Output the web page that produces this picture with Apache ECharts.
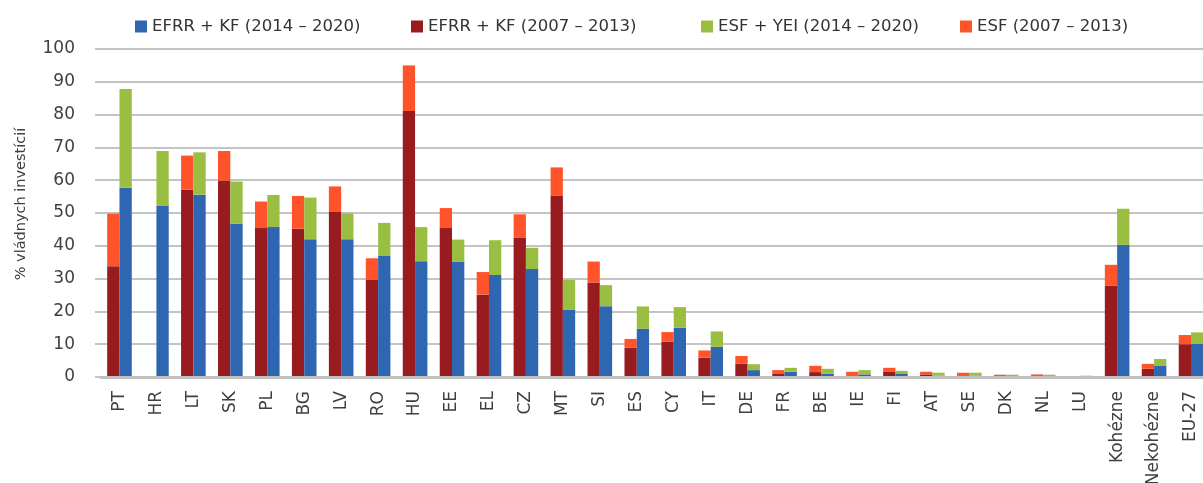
<!DOCTYPE html>
<html>
<head>
<meta charset="utf-8">
<script src="https://cdn.jsdelivr.net/npm/echarts@6/dist/echarts.min.js"></script>
<style>html,body{margin:0;padding:0;background:#fff}#c{width:1203px;height:483px}</style>
</head>
<body>
<div id="c"></div>
<script>
const categories = ['PT','HR','LT','SK','PL','BG','LV','RO','HU','EE','EL','CZ','MT','SI','ES','CY','IT','DE','FR','BE','IE','FI','AT','SE','DK','NL','LU','Kohézne','Nekohézne','EU-27'];
const efrrKf0713 = [33.8,null,57.1,59.9,45.4,45.2,50.3,29.7,81.1,45.4,25.1,42.5,55.3,28.8,8.9,10.8,5.9,4.1,1.1,1.5,0.5,1.7,0.8,0.5,0.2,0.3,0.1,27.8,2.5,10.0];
const esf0713 = [16.0,null,10.4,9.0,8.1,10.0,7.8,6.5,13.9,6.1,6.9,7.1,8.6,6.4,2.7,2.9,2.2,2.3,1.0,1.9,1.1,1.1,0.8,0.8,0.5,0.5,0.2,6.4,1.5,2.8];
const efrrKf1420 = [57.7,52.3,55.6,46.7,45.7,42.0,42.0,36.9,35.3,35.1,31.1,32.9,20.6,21.6,14.7,15.0,9.2,2.1,1.6,1.0,0.8,1.1,0.4,0.4,0.1,0.1,0.1,40.3,3.5,10.1];
const esfYei1420 = [30.1,16.6,12.9,12.9,9.8,12.7,7.9,10.1,10.4,6.8,10.6,6.5,9.0,6.4,6.8,6.3,4.7,1.8,1.2,1.5,1.3,0.8,0.9,0.9,0.6,0.6,0.3,11.0,2.0,3.5];
const yTicks = [0,10,20,30,40,50,60,70,80,90,100];

const names = {
  b: 'EFRR + KF (2014 – 2020)',
  r: 'EFRR + KF (2007 – 2013)',
  g: 'ESF + YEI (2014 – 2020)',
  o: 'ESF (2007 – 2013)'
};
const colors = { b:'#2e66b1', r:'#981b1f', g:'#9abe42', o:'#ff5429' };
const FONT = 'DejaVu Sans';

function legend(name, left) {
  return {
    data: [name], left: left, top: 13, icon: 'rect', itemWidth: 12, itemHeight: 12, itemGap: 5,
    selectedMode: false,
    textStyle: { fontFamily: FONT, fontSize: 16.5, color: '#333333' }
  };
}

const chart = echarts.init(document.getElementById('c'), null, { renderer: 'canvas' });
const bw = 12.3;
chart.setOption({
  animation: false,
  textStyle: { fontFamily: FONT },
  legend: [
    legend(names.b, 130),
    legend(names.r, 406),
    legend(names.g, 696),
    legend(names.o, 955)
  ],
  grid: [
    { left: 101, top: 49, bottom: 106, width: 1108.5, containLabel: false, outerBoundsMode: 'none' },
    { left: 95, top: 49, bottom: 106, right: 0, containLabel: false, outerBoundsMode: 'none' }
  ],
  xAxis: [{
    type: 'category', data: categories, gridIndex: 0, z: 3,
    axisLine: { lineStyle: { color: '#bfbfbf', width: 3 } },
    axisTick: { show: false },
    axisLabel: { rotate: 90, interval: 0, margin: 14, fontFamily: FONT, fontSize: 17, color: '#404040' }
  }, {
    type: 'value', gridIndex: 1, show: false
  }],
  yAxis: [{
    type: 'value', min: 0, max: 100, interval: 10, gridIndex: 0,
    name: '% vládnych investícií', nameLocation: 'middle', nameGap: 72, nameRotate: 90,
    nameTextStyle: { fontFamily: FONT, fontSize: 14.5, color: '#404040', padding: [0, 0, 0, 18] },
    axisLine: { show: false }, axisTick: { show: false },
    axisLabel: { margin: 26, fontFamily: FONT, fontSize: 17, color: '#404040',
      formatter: v => yTicks.includes(v) ? String(v) : '' },
    splitLine: { show: false }
  }, {
    type: 'value', min: 0, max: 100, interval: 10, gridIndex: 1,
    axisLine: { show: false }, axisTick: { show: false }, axisLabel: { show: false },
    splitLine: { lineStyle: { color: '#c4c4c4', width: 2 } }
  }],
  series: [
    { name: names.r, type: 'bar', stack: 'old', data: efrrKf0713, barWidth: bw, barGap: '0%', itemStyle: { color: colors.r } },
    { name: names.o, type: 'bar', stack: 'old', data: esf0713, barWidth: bw, barGap: '0%', itemStyle: { color: colors.o } },
    { name: names.b, type: 'bar', stack: 'new', data: efrrKf1420, barWidth: bw, barGap: '0%', itemStyle: { color: colors.b } },
    { name: names.g, type: 'bar', stack: 'new', data: esfYei1420, barWidth: bw, barGap: '0%', itemStyle: { color: colors.g } }
  ]
});
</script>
</body>
</html>
